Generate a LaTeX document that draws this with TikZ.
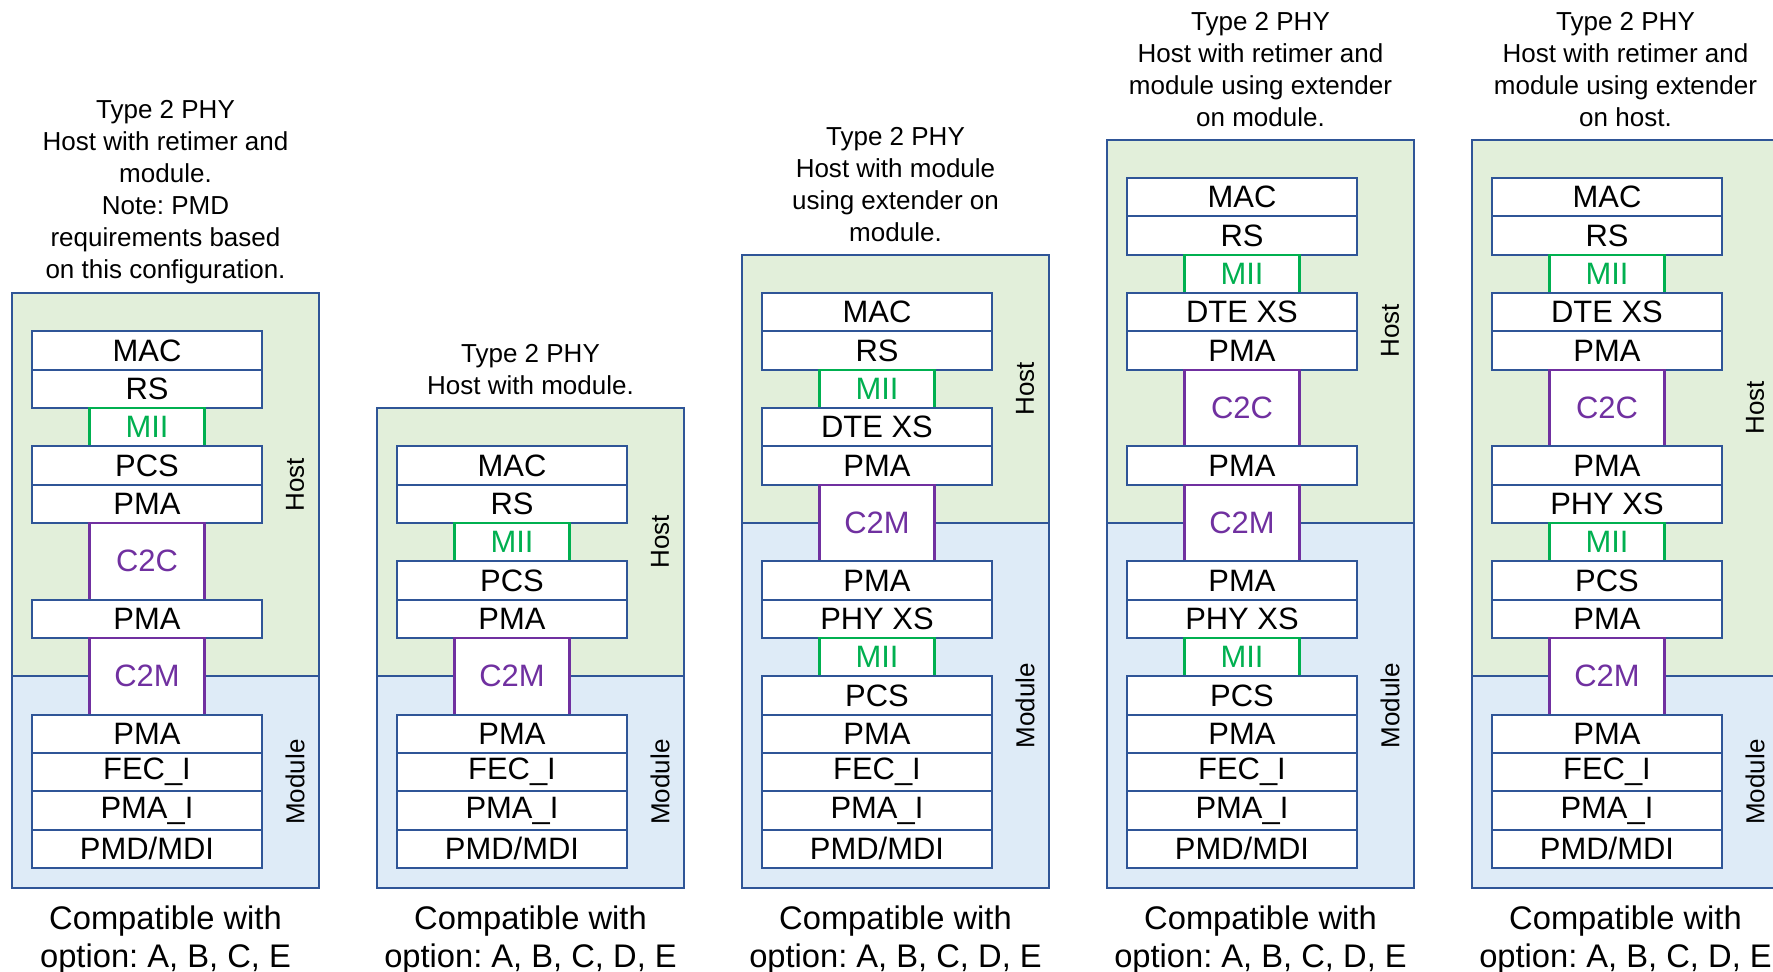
\documentclass[tikz,border=0pt]{standalone}
\usepackage{fontspec}
\setmainfont{Liberation Sans}
\frenchspacing
\usetikzlibrary{positioning}
\definecolor{edgeblue}{HTML}{2F5597}
\definecolor{hostgreen}{HTML}{E2EFDA}
\definecolor{modblue}{HTML}{DEEBF7}
\definecolor{miigreen}{HTML}{00B050}
\definecolor{linkpurple}{HTML}{7030A0}

\tikzset{
  layer/.style={draw=edgeblue, fill=white, line width=0.6pt, minimum width=23mm,
    minimum height=3.833mm, inner sep=0pt, outer sep=0pt,
    font=\fontsize{8.8}{10}\selectfont},
  mii/.style={layer, draw=miigreen, text=miigreen, minimum width=11.5mm},
  link/.style={layer, draw=linkpurple, text=linkpurple, minimum width=11.5mm,
    minimum height=7.666mm},
  region/.style={draw=edgeblue, line width=0.6pt},
  side/.style={rotate=90, font=\fontsize{7.4}{9}\selectfont},
  title/.style={anchor=south, align=center, font=\fontsize{7.4}{9.1}\selectfont},
  compat/.style={anchor=north, align=center, font=\fontsize{9.3}{10.8}\selectfont},
}

\begin{document}
\frenchspacing
\begin{tikzpicture}[x=0.1mm, y=-0.1mm]
  \clip (0,0) rectangle (1773,971);

  % host with retimer and module
  \begin{scope}
    \filldraw[region, fill=hostgreen] (12,293) rectangle (319,676);
    \filldraw[region, fill=modblue] (12,676) rectangle (319,888);
    \node[layer, anchor=north] (a1) at (147,331.3) {MAC};
    \node[layer, below=0pt of a1] (a2) {RS};
    \node[mii, below=0pt of a2] (a3) {MII};
    \node[layer, below=0pt of a3] (a4) {PCS};
    \node[layer, below=0pt of a4] (a5) {PMA};
    \node[link, below=0pt of a5] (a6) {C2C};
    \node[layer, below=0pt of a6] (a7) {PMA};
    \node[link, below=0pt of a7] (a8) {C2M};
    \node[layer, below=0pt of a8] (a9) {PMA};
    \node[layer, below=0pt of a9] (a10) {FEC\_I};
    \node[layer, below=0pt of a10] (a11) {PMA\_I};
    \node[layer, below=0pt of a11] (a12) {PMD/MDI};
    \node[side] (ahost) at (295,484.5) {Host};
    \node[side] (amod) at (295,782) {Module};
    \node[title] (atitle) at (165.5,296) {Type 2 PHY\\Host with retimer and\\module.\\Note: PMD\\requirements based\\on this configuration.};
    \node[compat] (acap) at (165.5,893) {Compatible with\\option: A, B, C, E};
  \end{scope}

  % host with module
  \begin{scope}[xshift=36.5mm]
    \filldraw[region, fill=hostgreen] (12,408) rectangle (319,676);
    \filldraw[region, fill=modblue] (12,676) rectangle (319,888);
    \node[layer, anchor=north] (b1) at (147,446.3) {MAC};
    \node[layer, below=0pt of b1] (b2) {RS};
    \node[mii, below=0pt of b2] (b3) {MII};
    \node[layer, below=0pt of b3] (b4) {PCS};
    \node[layer, below=0pt of b4] (b5) {PMA};
    \node[link, below=0pt of b5] (b6) {C2M};
    \node[layer, below=0pt of b6] (b7) {PMA};
    \node[layer, below=0pt of b7] (b8) {FEC\_I};
    \node[layer, below=0pt of b8] (b9) {PMA\_I};
    \node[layer, below=0pt of b9] (b10) {PMD/MDI};
    \node[side] (bhost) at (295,542) {Host};
    \node[side] (bmod) at (295,782) {Module};
    \node[title] (btitle) at (165.5,407) {Type 2 PHY\\Host with module.};
    \node[compat] (bcap) at (165.5,893) {Compatible with\\option: A, B, C, D, E};
  \end{scope}

  % host with module, extender on module
  \begin{scope}[xshift=73mm]
    \filldraw[region, fill=hostgreen] (12,254.7) rectangle (319,523);
    \filldraw[region, fill=modblue] (12,523) rectangle (319,888);
    \node[layer, anchor=north] (c1) at (147,293) {MAC};
    \node[layer, below=0pt of c1] (c2) {RS};
    \node[mii, below=0pt of c2] (c3) {MII};
    \node[layer, below=0pt of c3] (c4) {DTE XS};
    \node[layer, below=0pt of c4] (c5) {PMA};
    \node[link, below=0pt of c5] (c6) {C2M};
    \node[layer, below=0pt of c6] (c7) {PMA};
    \node[layer, below=0pt of c7] (c8) {PHY XS};
    \node[mii, below=0pt of c8] (c9) {MII};
    \node[layer, below=0pt of c9] (c10) {PCS};
    \node[layer, below=0pt of c10] (c11) {PMA};
    \node[layer, below=0pt of c11] (c12) {FEC\_I};
    \node[layer, below=0pt of c12] (c13) {PMA\_I};
    \node[layer, below=0pt of c13] (c14) {PMD/MDI};
    \node[side] (chost) at (295,389) {Host};
    \node[side] (cmod) at (295,705.5) {Module};
    \node[title] (ctitle) at (165.5,254) {Type 2 PHY\\Host with module\\using extender on\\module.};
    \node[compat] (ccap) at (165.5,893) {Compatible with\\option: A, B, C, D, E};
  \end{scope}

  % host with retimer, extender on module
  \begin{scope}[xshift=109.5mm]
    \filldraw[region, fill=hostgreen] (12,139.7) rectangle (319,523);
    \filldraw[region, fill=modblue] (12,523) rectangle (319,888);
    \node[layer, anchor=north] (d1) at (147,178) {MAC};
    \node[layer, below=0pt of d1] (d2) {RS};
    \node[mii, below=0pt of d2] (d3) {MII};
    \node[layer, below=0pt of d3] (d4) {DTE XS};
    \node[layer, below=0pt of d4] (d5) {PMA};
    \node[link, below=0pt of d5] (d6) {C2C};
    \node[layer, below=0pt of d6] (d7) {PMA};
    \node[link, below=0pt of d7] (d8) {C2M};
    \node[layer, below=0pt of d8] (d9) {PMA};
    \node[layer, below=0pt of d9] (d10) {PHY XS};
    \node[mii, below=0pt of d10] (d11) {MII};
    \node[layer, below=0pt of d11] (d12) {PCS};
    \node[layer, below=0pt of d12] (d13) {PMA};
    \node[layer, below=0pt of d13] (d14) {FEC\_I};
    \node[layer, below=0pt of d14] (d15) {PMA\_I};
    \node[layer, below=0pt of d15] (d16) {PMD/MDI};
    \node[side] (dhost) at (295,331) {Host};
    \node[side] (dmod) at (295,705.5) {Module};
    \node[title] (dtitle) at (165.5,139) {Type 2 PHY\\Host with retimer and\\module using extender\\on module.};
    \node[compat] (dcap) at (165.5,893) {Compatible with\\option: A, B, C, D, E};
  \end{scope}

  % host with retimer, extender on host
  \begin{scope}[xshift=146mm]
    \filldraw[region, fill=hostgreen] (12,139.7) rectangle (319,676);
    \filldraw[region, fill=modblue] (12,676) rectangle (319,888);
    \node[layer, anchor=north] (e1) at (147,178) {MAC};
    \node[layer, below=0pt of e1] (e2) {RS};
    \node[mii, below=0pt of e2] (e3) {MII};
    \node[layer, below=0pt of e3] (e4) {DTE XS};
    \node[layer, below=0pt of e4] (e5) {PMA};
    \node[link, below=0pt of e5] (e6) {C2C};
    \node[layer, below=0pt of e6] (e7) {PMA};
    \node[layer, below=0pt of e7] (e8) {PHY XS};
    \node[mii, below=0pt of e8] (e9) {MII};
    \node[layer, below=0pt of e9] (e10) {PCS};
    \node[layer, below=0pt of e10] (e11) {PMA};
    \node[link, below=0pt of e11] (e12) {C2M};
    \node[layer, below=0pt of e12] (e13) {PMA};
    \node[layer, below=0pt of e13] (e14) {FEC\_I};
    \node[layer, below=0pt of e14] (e15) {PMA\_I};
    \node[layer, below=0pt of e15] (e16) {PMD/MDI};
    \node[side] (ehost) at (295,408) {Host};
    \node[side] (emod) at (295,782) {Module};
    \node[title] (etitle) at (165.5,139) {Type 2 PHY\\Host with retimer and\\module using extender\\on host.};
    \node[compat] (ecap) at (165.5,893) {Compatible with\\option: A, B, C, D, E};
  \end{scope}
\end{tikzpicture}
\end{document}
